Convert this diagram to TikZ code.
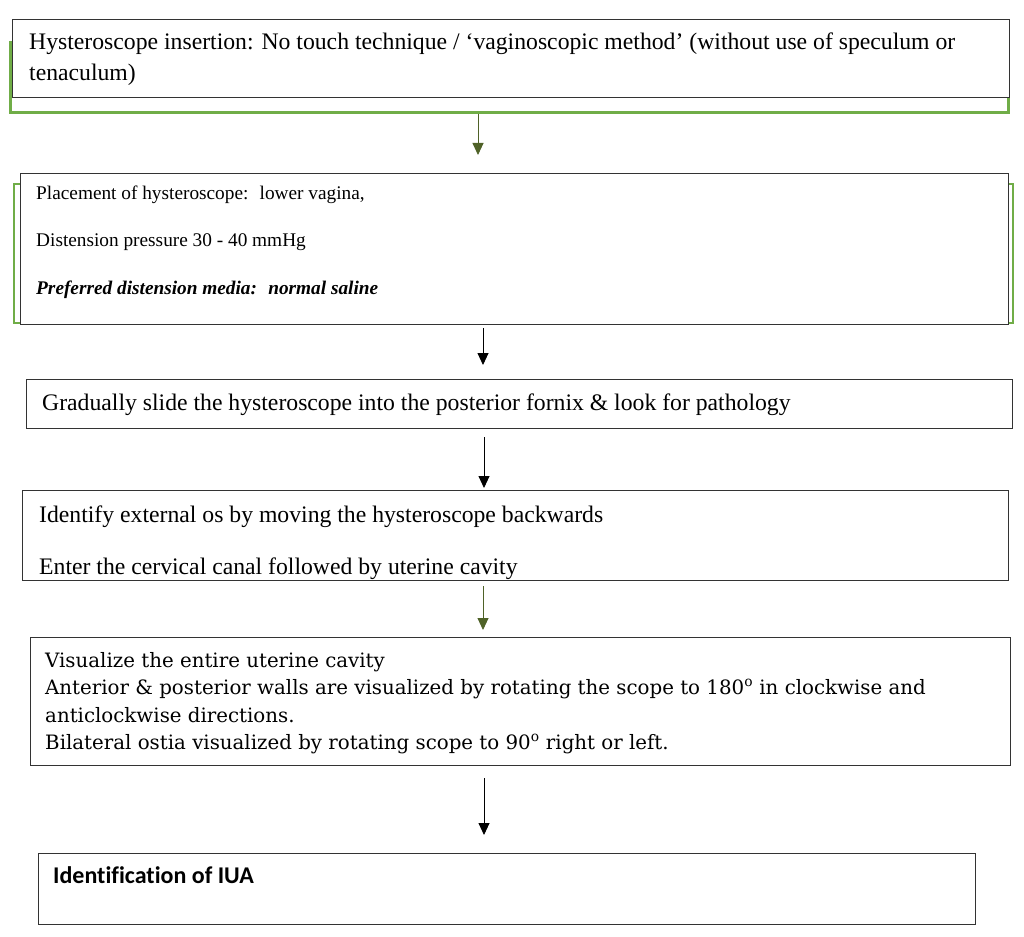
\documentclass[tikz,border=0pt]{standalone}
\usepackage{fontspec}
\setmainfont{Liberation Serif}
\newfontfamily\stepsfont{DejaVu Serif}
\newfontfamily\iuafont[Ligatures=NoCommon]{Carlito}
\usetikzlibrary{arrows.meta}

\definecolor{framegreen}{RGB}{112,173,71}
\definecolor{arrowgreen}{RGB}{79,98,40}

\tikzset{
  box/.style={draw=black!80, fill=white, line width=1pt, anchor=north west, inner sep=0pt},
  greenframe/.style={draw=framegreen, line width=3pt},
  txt/.style={anchor=base west, align=left, inner sep=0pt},
  flowarrow/.style={-{Triangle[length=12pt,width=11pt]}, line width=0.9pt}
}

\begin{document}
\begin{tikzpicture}[x=1pt,y=-1pt]
  \useasboundingbox (0,0) rectangle (1024,936);
  % green frames behind the first two boxes
  \draw[greenframe] (10,43) rectangle (1008,113);
  \draw[greenframe, line width=2.5pt] (14,184) rectangle (1013,323);

  \node[box, minimum width=997pt, minimum height=78pt] (b1) at (12,19) {};
  \node[box, minimum width=988pt, minimum height=151pt] (b2) at (20,173) {};
  \node[box, minimum width=986pt, minimum height=49pt] (b3) at (26,379) {};
  \node[box, minimum width=986pt, minimum height=90pt] (b4) at (22,490) {};
  \node[box, minimum width=980pt, minimum height=128pt] (b5) at (30,637) {};
  \node[box, minimum width=937pt, minimum height=71pt] (b6) at (38,853) {};

  % text anchored at the baseline of its last line
  \node[txt, font=\fontsize{23.7}{31.5}\selectfont] (t1) at ([shift={(17,62)}]b1.north west)
    {Hysteroscope insertion: No touch technique / ‘vaginoscopic method’ (without use of speculum or\\tenaculum)};
  \node[txt, font=\fontsize{19.3}{47.3}\selectfont] (t2) at ([shift={(16,121)}]b2.north west)
    {Placement of hysteroscope:~ lower vagina,\\Distension pressure 30 - 40 mmHg\\\textbf{\textit{Preferred distension media:~ normal saline}}};
  \node[txt, font=\fontsize{23.7}{31}\selectfont] (t3) at ([shift={(16,31)}]b3.north west)
    {Gradually slide the hysteroscope into the posterior fornix \& look for pathology};
  \begin{scope}
    \clip (b4.north west) rectangle (b4.south east);
    \node[txt, font=\fontsize{23.7}{52}\selectfont] (t4) at ([shift={(17,84)}]b4.north west)
      {Identify external os by moving the hysteroscope backwards\\Enter the cervical canal followed by uterine cavity};
  \end{scope}
  \node[txt, font=\stepsfont\fontsize{19.8}{27.5}\selectfont] (t5) at ([shift={(15,112.5)}]b5.north west)
    {Visualize the entire uterine cavity\\Anterior \& posterior walls are visualized by rotating the scope to 180\textsuperscript{o} in clockwise and\\anticlockwise directions.\\Bilateral ostia visualized by rotating scope to 90\textsuperscript{o} right or left.};
  \node[txt, font=\iuafont\bfseries\fontsize{24}{28}\selectfont] (t6) at ([shift={(15,30)}]b6.north west)
    {Identification of IUA};

  % arrows between the steps
  \coordinate (x1) at (478,0);
  \coordinate (x2) at (483,0);
  \coordinate (x3) at (484,0);
  \draw[flowarrow, arrowgreen, shorten <=16pt, shorten >=18pt] (b1.south -| x1) -- (b2.north -| x1);
  \draw[flowarrow, shorten <=3pt, shorten >=14pt] (b2.south -| x2) -- (b3.north -| x2);
  \draw[flowarrow, shorten <=8pt, shorten >=2pt] (b3.south -| x3) -- (b4.north -| x3);
  \draw[flowarrow, arrowgreen, shorten <=5pt, shorten >=7pt] (b4.south -| x2) -- (b5.north -| x2);
  \draw[flowarrow, shorten <=12pt, shorten >=18pt] (b5.south -| x3) -- (b6.north -| x3);
\end{tikzpicture}
\end{document}
